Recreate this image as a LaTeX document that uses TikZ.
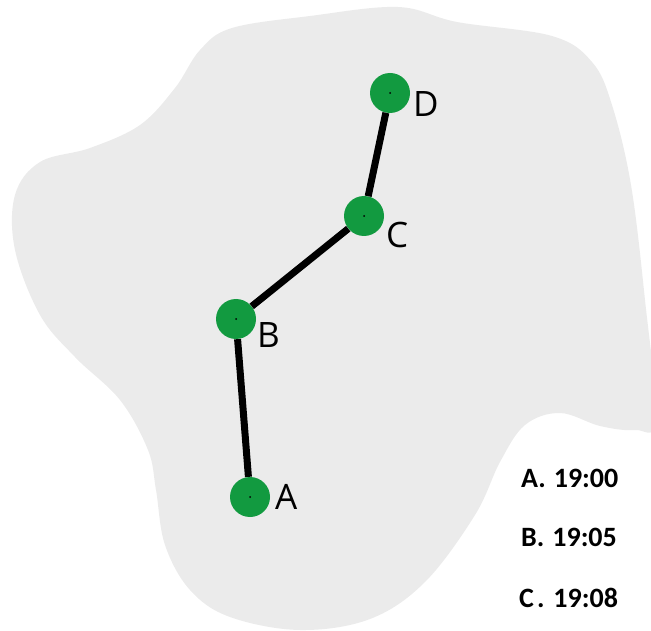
\documentclass[tikz,border=0pt]{standalone}
\usepackage{fontspec}
\setmainfont{Open Sans}
\newfontfamily\calib{Carlito}
\definecolor{blobgray}{HTML}{EBEBEB}
\definecolor{ptgreen}{HTML}{129A40}
\tikzset{
  pt/.style={circle, fill=ptgreen, minimum size=40pt, inner sep=0pt},
  ptlabel/.style={anchor=base west, inner sep=0pt, font=\fontsize{35}{40}\selectfont},
  timelabel/.style={anchor=base west, inner sep=0pt, font=\calib\bfseries\fontsize{28}{32}\selectfont},
  route/.style={line width=7pt, black},
}
\begin{document}
\begin{tikzpicture}[x=1pt,y=-1pt]
\useasboundingbox (0,0) rectangle (651,631);
\clip (0,0) rectangle (651,631);
\fill[blobgray] plot[smooth cycle, tension=0.6] coordinates {
 (232,28) (310,16) (398,7) (457,22) (552,36) (592,62) (612,105) (631,185)
 (645,300) (656,420) (635,430) (600,426) (560,413) (525,425) (500,462)
 (475,515) (425,582) (370,619) (300,630) (230,617) (190,590) (165,545)
 (156,490) (148,450) (120,400) (75,357) (40,315) (15,250) (15,195)
 (40,162) (90,148) (140,125) (175,88) (200,50)};
\node[pt] (A) at (250,497) {};
\node[pt] (B) at (236,319) {};
\node[pt] (C) at (364,216) {};
\node[pt] (D) at (390,93) {};
\draw[route] (A) -- (B);
\draw[route] (B) -- (C);
\draw[route] (C) -- (D);
\foreach \n in {A,B,C,D} \fill[black] (\n) circle (1pt);
\node[ptlabel] (lA) at (275,509) {A};
\node[ptlabel] (lB) at (257,348) {B};
\node[ptlabel] (lC) at (386,248) {C};
\node[ptlabel] (lD) at (413,117) {D};
\node[timelabel] (tA) at (521,487) {A.\hspace{8pt}19:00};
\node[timelabel] (tB) at (521,546) {B.\hspace{8pt}19:05};
\node[timelabel] (tC) at (519,607) {C\hspace{3pt}.\hspace{9pt}19:08};
\end{tikzpicture}
\end{document}
